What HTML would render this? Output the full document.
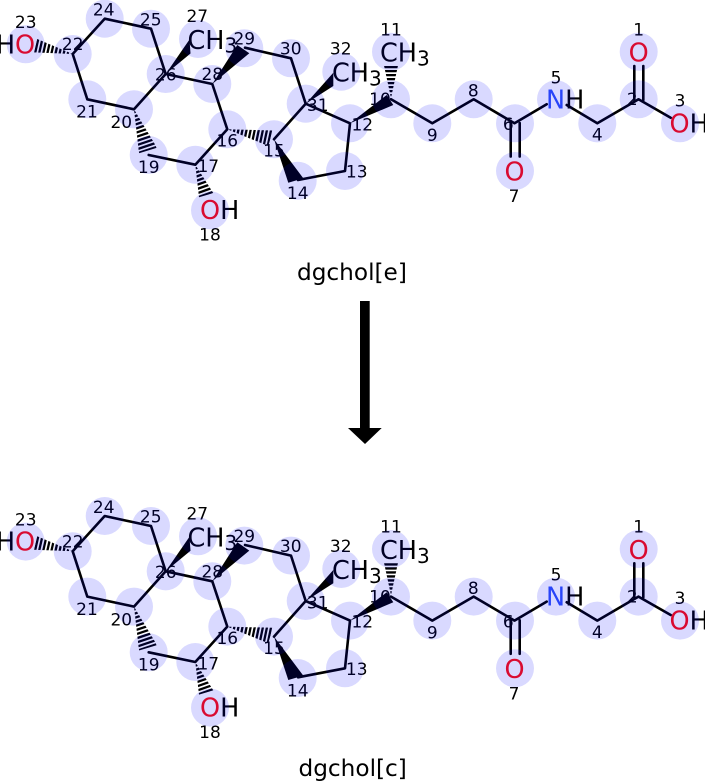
<!DOCTYPE html>
<html><head><meta charset="utf-8"><title>dgchol</title>
<style>
html,body{margin:0;padding:0;background:#fff}
svg{display:block}
text{font-family:"DejaVu Sans","Liberation Sans",sans-serif;fill:#000}
.n{font-size:17px;text-anchor:middle}
.a{font-size:25.5px}
.s{font-size:20px}
.r{fill:#ff0d0d}
.b{fill:#3050f8}
.t{font-size:23.2px}
.bd{fill:none;stroke:#000;stroke-width:2.6;stroke-linejoin:round;stroke-linecap:round}
.h{stroke:#000;stroke-width:18;stroke-dasharray:2.3 1.7;fill:none}
</style></head>
<body>
<svg width="705" height="782" viewBox="0 0 705 782" xmlns="http://www.w3.org/2000/svg">
<defs>
<clipPath id="c1"><polygon points="72.7,54 37.2,39 33.9,52.4"/></clipPath>
<clipPath id="c2"><polygon points="134,109.3 139,153.2 157,147.8"/></clipPath>
<clipPath id="c3"><polygon points="195.3,164.7 199,197.3 213.3,193.1"/></clipPath>
<clipPath id="c4"><polygon points="227.3,129.3 272.7,130.5 268.3,146"/></clipPath>
<clipPath id="c5"><polygon points="391,98 384,65.5 398,65.5"/></clipPath>
</defs>

<g id="m1">
<polyline class="bd" points="148.7,155 195.3,164.7 227.3,129.3 212.3,84 165.7,74 151,28.7 104.7,18.7 72.7,54 87.3,99.3 134,109.3 165.7,74"/>
<polyline class="bd" points="245,47.7 291,58.3 305.7,103.7 274,139.3"/>
<polyline class="bd" points="305.7,103.7 350,123.3 345,171 298,180"/>
<polyline class="bd" points="391,99.3 432.3,123.3 473.7,99.3 514.5,123.3 546.7,104.3"/>
<polyline class="bd" points="566.7,105 597.3,123.3 638.5,99.3 670.7,117.7"/>
<line class="bd" x1="634.3" y1="100" x2="634.3" y2="66"/>
<line class="bd" x1="643.3" y1="100" x2="643.3" y2="66"/>
<line class="bd" x1="510.7" y1="123" x2="510.7" y2="156.5"/>
<line class="bd" x1="519.7" y1="123" x2="519.7" y2="156.5"/>
<polygon points="274,139.3 288.3,182.7 303.3,178.3"/>
<polygon points="165.7,74 189.5,39.5 190.5,53.5"/>
<polygon points="212.3,84 237.3,45 249.3,53.3"/>
<polygon points="305.7,103.7 333.3,72.7 333.3,86"/>
<polygon points="350,123.3 386.7,95 393.3,105"/>
<line class="h" x2="72.7" y2="54" x1="35.6" y1="45.7" clip-path="url(#c1)"/>
<line class="h" x2="134" y2="109.3" x1="148" y1="151" clip-path="url(#c2)"/>
<line class="h" x2="195.3" y2="164.7" x1="206.2" y1="195.5" clip-path="url(#c3)"/>
<line class="h" x2="227.3" y2="129.3" x1="270.5" y1="138.3" clip-path="url(#c4)"/>
<line class="h" x2="391" y2="98" x1="391" y1="66" clip-path="url(#c5)"/>

<text class="a r" x="638.7" y="61.7" text-anchor="middle">O</text>
<text class="a r" x="514.5" y="180.7" text-anchor="middle">O</text>
<text class="a" x="669.5" y="132.3"><tspan class="r">O</tspan>H</text>
<text class="a" x="546" y="108.3"><tspan class="b">N</tspan>H</text>
<text class="a" x="380" y="61.7">CH</text><text class="s" x="417" y="65.5">3</text>
<text class="a" x="187.5" y="49">CH</text><text class="s" x="224.5" y="52.5">3</text>
<text class="a" x="332" y="81.7">CH</text><text class="s" x="369" y="85.5">3</text>
<text class="a" x="200" y="219"><tspan class="r">O</tspan>H</text>
<text class="a r" x="15" y="53.3">O</text><text class="a" x="15" y="53.3" text-anchor="end">H</text>

<text class="n" x="638.7" y="35.3">1</text><text class="n" x="632.3" y="105">2</text><text class="n" x="680" y="106.7">3</text><text class="n" x="597.3" y="140.7">4</text><text class="n" x="556" y="83.3">5</text><text class="n" x="508.3" y="130">6</text><text class="n" x="514" y="202">7</text><text class="n" x="473.3" y="96.7">8</text><text class="n" x="432.3" y="141">9</text><text class="n" x="380" y="105">10</text><text class="n" x="391" y="35.3">11</text><text class="n" x="362.3" y="130.3">12</text><text class="n" x="356.7" y="177.7">13</text><text class="n" x="297.7" y="199">14</text><text class="n" x="274" y="156.7">15</text><text class="n" x="227.3" y="146.7">16</text><text class="n" x="208.3" y="172">17</text><text class="n" x="210" y="240.7">18</text><text class="n" x="148.7" y="173">19</text><text class="n" x="121.3" y="128">20</text><text class="n" x="87" y="117.7">21</text><text class="n" x="72.7" y="50">22</text><text class="n" x="25.7" y="28">23</text><text class="n" x="103.7" y="15.5">24</text><text class="n" x="150.7" y="25.3">25</text><text class="n" x="165.7" y="80.7">26</text><text class="n" x="197.3" y="22">27</text><text class="n" x="212.3" y="80">28</text><text class="n" x="244.3" y="44.7">29</text><text class="n" x="290.7" y="54.7">30</text><text class="n" x="317.7" y="111">31</text><text class="n" x="340.7" y="54.7">32</text>

<g fill="#00f" opacity=".15"><path d="M657.7 51.7a19 19 0 1 0-38 0a19 19 0 1 0 38 0zM657.7 99.3a19 19 0 1 0-38 0a19 19 0 1 0 38 0zM699 123.3a19 19 0 1 0-38 0a19 19 0 1 0 38 0zM616.3 123.3a19 19 0 1 0-38 0a19 19 0 1 0 38 0zM575 99.3a19 19 0 1 0-38 0a19 19 0 1 0 38 0zM534 123.3a19 19 0 1 0-38 0a19 19 0 1 0 38 0zM534 171a19 19 0 1 0-38 0a19 19 0 1 0 38 0zM492.7 99.3a19 19 0 1 0-38 0a19 19 0 1 0 38 0zM451.3 123.3a19 19 0 1 0-38 0a19 19 0 1 0 38 0zM410 99.3a19 19 0 1 0-38 0a19 19 0 1 0 38 0zM410 51.7a19 19 0 1 0-38 0a19 19 0 1 0 38 0zM369 123.3a19 19 0 1 0-38 0a19 19 0 1 0 38 0zM364 171a19 19 0 1 0-38 0a19 19 0 1 0 38 0zM316.7 180.7a19 19 0 1 0-38 0a19 19 0 1 0 38 0zM293 139.3a19 19 0 1 0-38 0a19 19 0 1 0 38 0zM246.3 129.3a19 19 0 1 0-38 0a19 19 0 1 0 38 0zM214.3 164.7a19 19 0 1 0-38 0a19 19 0 1 0 38 0zM229 210.3a19 19 0 1 0-38 0a19 19 0 1 0 38 0zM167.7 155a19 19 0 1 0-38 0a19 19 0 1 0 38 0zM153 109.3a19 19 0 1 0-38 0a19 19 0 1 0 38 0zM106.3 99.3a19 19 0 1 0-38 0a19 19 0 1 0 38 0zM91.7 54a19 19 0 1 0-38 0a19 19 0 1 0 38 0zM44.7 44.3a19 19 0 1 0-38 0a19 19 0 1 0 38 0zM123.7 18.7a19 19 0 1 0-38 0a19 19 0 1 0 38 0zM170 28.7a19 19 0 1 0-38 0a19 19 0 1 0 38 0zM184.7 74a19 19 0 1 0-38 0a19 19 0 1 0 38 0zM217 39a19 19 0 1 0-38 0a19 19 0 1 0 38 0zM231.3 84a19 19 0 1 0-38 0a19 19 0 1 0 38 0zM263.3 48.3a19 19 0 1 0-38 0a19 19 0 1 0 38 0zM310 58.3a19 19 0 1 0-38 0a19 19 0 1 0 38 0zM324.7 103.7a19 19 0 1 0-38 0a19 19 0 1 0 38 0zM360.3 71.7a19 19 0 1 0-38 0a19 19 0 1 0 38 0z"/></g>
</g>

<text class="t" x="297" y="280">dgchol[e]</text>
<rect x="360" y="301" width="9.7" height="128"/>
<polygon points="348,428 381.7,428 365,444"/>

<g id="m2" transform="translate(0,497.3)">
<polyline class="bd" points="148.7,155 195.3,164.7 227.3,129.3 212.3,84 165.7,74 151,28.7 104.7,18.7 72.7,54 87.3,99.3 134,109.3 165.7,74"/>
<polyline class="bd" points="245,47.7 291,58.3 305.7,103.7 274,139.3"/>
<polyline class="bd" points="305.7,103.7 350,123.3 345,171 298,180"/>
<polyline class="bd" points="391,99.3 432.3,123.3 473.7,99.3 514.5,123.3 546.7,104.3"/>
<polyline class="bd" points="566.7,105 597.3,123.3 638.5,99.3 670.7,117.7"/>
<line class="bd" x1="634.3" y1="100" x2="634.3" y2="66"/>
<line class="bd" x1="643.3" y1="100" x2="643.3" y2="66"/>
<line class="bd" x1="510.7" y1="123" x2="510.7" y2="156.5"/>
<line class="bd" x1="519.7" y1="123" x2="519.7" y2="156.5"/>
<polygon points="274,139.3 288.3,182.7 303.3,178.3"/>
<polygon points="165.7,74 189.5,39.5 190.5,53.5"/>
<polygon points="212.3,84 237.3,45 249.3,53.3"/>
<polygon points="305.7,103.7 333.3,72.7 333.3,86"/>
<polygon points="350,123.3 386.7,95 393.3,105"/>
<line class="h" x2="72.7" y2="54" x1="35.6" y1="45.7" clip-path="url(#c1)"/>
<line class="h" x2="134" y2="109.3" x1="148" y1="151" clip-path="url(#c2)"/>
<line class="h" x2="195.3" y2="164.7" x1="206.2" y1="195.5" clip-path="url(#c3)"/>
<line class="h" x2="227.3" y2="129.3" x1="270.5" y1="138.3" clip-path="url(#c4)"/>
<line class="h" x2="391" y2="98" x1="391" y1="66" clip-path="url(#c5)"/>

<text class="a r" x="638.7" y="61.7" text-anchor="middle">O</text>
<text class="a r" x="514.5" y="180.7" text-anchor="middle">O</text>
<text class="a" x="669.5" y="132.3"><tspan class="r">O</tspan>H</text>
<text class="a" x="546" y="108.3"><tspan class="b">N</tspan>H</text>
<text class="a" x="380" y="61.7">CH</text><text class="s" x="417" y="65.5">3</text>
<text class="a" x="187.5" y="49">CH</text><text class="s" x="224.5" y="52.5">3</text>
<text class="a" x="332" y="81.7">CH</text><text class="s" x="369" y="85.5">3</text>
<text class="a" x="200" y="219"><tspan class="r">O</tspan>H</text>
<text class="a r" x="15" y="53.3">O</text><text class="a" x="15" y="53.3" text-anchor="end">H</text>

<text class="n" x="638.7" y="35.3">1</text><text class="n" x="632.3" y="105">2</text><text class="n" x="680" y="106.7">3</text><text class="n" x="597.3" y="140.7">4</text><text class="n" x="556" y="83.3">5</text><text class="n" x="508.3" y="130">6</text><text class="n" x="514" y="202">7</text><text class="n" x="473.3" y="96.7">8</text><text class="n" x="432.3" y="141">9</text><text class="n" x="380" y="105">10</text><text class="n" x="391" y="35.3">11</text><text class="n" x="362.3" y="130.3">12</text><text class="n" x="356.7" y="177.7">13</text><text class="n" x="297.7" y="199">14</text><text class="n" x="274" y="156.7">15</text><text class="n" x="227.3" y="146.7">16</text><text class="n" x="208.3" y="172">17</text><text class="n" x="210" y="240.7">18</text><text class="n" x="148.7" y="173">19</text><text class="n" x="121.3" y="128">20</text><text class="n" x="87" y="117.7">21</text><text class="n" x="72.7" y="50">22</text><text class="n" x="25.7" y="28">23</text><text class="n" x="103.7" y="15.5">24</text><text class="n" x="150.7" y="25.3">25</text><text class="n" x="165.7" y="80.7">26</text><text class="n" x="197.3" y="22">27</text><text class="n" x="212.3" y="80">28</text><text class="n" x="244.3" y="44.7">29</text><text class="n" x="290.7" y="54.7">30</text><text class="n" x="317.7" y="111">31</text><text class="n" x="340.7" y="54.7">32</text>

<g fill="#00f" opacity=".15"><path d="M657.7 51.7a19 19 0 1 0-38 0a19 19 0 1 0 38 0zM657.7 99.3a19 19 0 1 0-38 0a19 19 0 1 0 38 0zM699 123.3a19 19 0 1 0-38 0a19 19 0 1 0 38 0zM616.3 123.3a19 19 0 1 0-38 0a19 19 0 1 0 38 0zM575 99.3a19 19 0 1 0-38 0a19 19 0 1 0 38 0zM534 123.3a19 19 0 1 0-38 0a19 19 0 1 0 38 0zM534 171a19 19 0 1 0-38 0a19 19 0 1 0 38 0zM492.7 99.3a19 19 0 1 0-38 0a19 19 0 1 0 38 0zM451.3 123.3a19 19 0 1 0-38 0a19 19 0 1 0 38 0zM410 99.3a19 19 0 1 0-38 0a19 19 0 1 0 38 0zM410 51.7a19 19 0 1 0-38 0a19 19 0 1 0 38 0zM369 123.3a19 19 0 1 0-38 0a19 19 0 1 0 38 0zM364 171a19 19 0 1 0-38 0a19 19 0 1 0 38 0zM316.7 180.7a19 19 0 1 0-38 0a19 19 0 1 0 38 0zM293 139.3a19 19 0 1 0-38 0a19 19 0 1 0 38 0zM246.3 129.3a19 19 0 1 0-38 0a19 19 0 1 0 38 0zM214.3 164.7a19 19 0 1 0-38 0a19 19 0 1 0 38 0zM229 210.3a19 19 0 1 0-38 0a19 19 0 1 0 38 0zM167.7 155a19 19 0 1 0-38 0a19 19 0 1 0 38 0zM153 109.3a19 19 0 1 0-38 0a19 19 0 1 0 38 0zM106.3 99.3a19 19 0 1 0-38 0a19 19 0 1 0 38 0zM91.7 54a19 19 0 1 0-38 0a19 19 0 1 0 38 0zM44.7 44.3a19 19 0 1 0-38 0a19 19 0 1 0 38 0zM123.7 18.7a19 19 0 1 0-38 0a19 19 0 1 0 38 0zM170 28.7a19 19 0 1 0-38 0a19 19 0 1 0 38 0zM184.7 74a19 19 0 1 0-38 0a19 19 0 1 0 38 0zM217 39a19 19 0 1 0-38 0a19 19 0 1 0 38 0zM231.3 84a19 19 0 1 0-38 0a19 19 0 1 0 38 0zM263.3 48.3a19 19 0 1 0-38 0a19 19 0 1 0 38 0zM310 58.3a19 19 0 1 0-38 0a19 19 0 1 0 38 0zM324.7 103.7a19 19 0 1 0-38 0a19 19 0 1 0 38 0zM360.3 71.7a19 19 0 1 0-38 0a19 19 0 1 0 38 0z"/></g>
</g>

<text class="t" x="298.5" y="776">dgchol[c]</text>
</svg>
</body></html>
